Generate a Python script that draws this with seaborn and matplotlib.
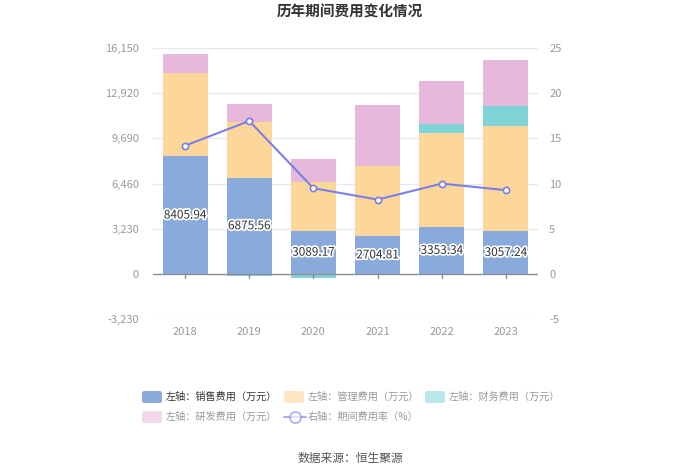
import matplotlib
matplotlib.use("Agg")
import matplotlib.pyplot as plt
import matplotlib.patheffects as pe
from matplotlib.lines import Line2D
from matplotlib.patches import FancyBboxPatch
import seaborn as sns
import numpy as np

years = ["2018", "2019", "2020", "2021", "2022", "2023"]
sales = [8405.94, 6875.56, 3089.17, 2704.81, 3353.34, 3057.24]
admin = [5979, 4008, 3462, 5013, 6700, 7543]
finance = [0, -140, -310, -50, 666, 1428]
rnd = [1336, 1286, 1689, 4335, 3096, 3264]
rate = [14.19, 16.92, 9.48, 8.22, 9.99, 9.26]

left_ticks = [-3230, 0, 3230, 6460, 9690, 12920, 16150]
right_ticks = [-5, 0, 5, 10, 15, 20, 25]

c_sales = "#8aaadb"
c_admin = "#fdd79a"
c_fin = "#80d4d8"
c_rnd = "#e6b8db"
c_line = "#7b7fe6"

sns.set_theme(style="white")
plt.rcParams['font.family'] = ['Noto Sans CJK SC', 'DejaVu Sans']

fig = plt.figure(figsize=(7, 4.73), dpi=100)
ax = fig.add_axes([153/700, 1-319/473, 385/700, (319-48)/473])

sales_a = np.array(sales)
admin_a = np.array(admin)
fin_a = np.array(finance)
rnd_a = np.array(rnd)
fin_pos = np.clip(fin_a, 0, None)
fin_neg = np.clip(fin_a, None, 0)

w = 0.70
top_rnd = sales_a + admin_a + fin_pos + rnd_a
top_fin = sales_a + admin_a + fin_pos
top_admin = sales_a + admin_a
sns.barplot(x=years, y=top_rnd, color=c_rnd, width=w, ax=ax, saturation=1, zorder=2)
sns.barplot(x=years, y=top_fin, color=c_fin, width=w, ax=ax, saturation=1, zorder=2)
sns.barplot(x=years, y=top_admin, color=c_admin, width=w, ax=ax, saturation=1, zorder=2)
sns.barplot(x=years, y=sales_a, color=c_sales, width=w, ax=ax, saturation=1, zorder=2)
sns.barplot(x=years, y=fin_neg, color=c_fin, width=w, ax=ax, saturation=1, zorder=2)
for p in ax.patches:
    p.set_edgecolor("none")
    p.set_linewidth(0)

ax.set_ylim(-3230, 16150)
ax.set_xlim(-0.5, 5.5)
ax.set_yticks(left_ticks)
ax.set_yticklabels([f"{t:,}" for t in left_ticks])
for t in left_ticks:
    if t != 0:
        ax.axhline(t, color="#e6e8f0", lw=0.9, zorder=0)
ax.axhline(0, color="#8a8f99", lw=1.0, zorder=3)
for s in ax.spines.values():
    s.set_visible(False)
ax.tick_params(axis="y", length=0, labelsize=8, labelcolor="#999999", pad=10)
ax.tick_params(axis="x", length=0, labelsize=8, labelcolor="#999999", pad=6)
ax.set_xlabel("")
ax.set_ylabel("")
for i in range(len(years)):
    ax.plot([i, i], [0, -3230*0.085], color="#8a8f99", lw=1.0, zorder=3, clip_on=False)

for i, v in enumerate(sales):
    ax.text(i, v/2, f"{v:.2f}", ha="center", va="center", fontsize=8.5,
            color="#333333", zorder=5,
            path_effects=[pe.withStroke(linewidth=2.5, foreground="white")])

ax2 = ax.twinx()
ax2.set_ylim(-5, 25)
ax2.set_yticks(right_ticks)
ax2.set_yticklabels([str(t) for t in right_ticks])
for s in ax2.spines.values():
    s.set_visible(False)
ax2.tick_params(axis="y", length=0, labelsize=8, labelcolor="#999999", pad=8)
ax2.grid(False)
sns.lineplot(x=list(range(len(years))), y=rate, ax=ax2, color=c_line, lw=1.5,
             marker="o", markersize=4.5, markerfacecolor="white",
             markeredgecolor=c_line, markeredgewidth=1.2, zorder=6)
ax2.set_xlim(-0.5, 5.5)

fig.text(0.5, 1-12/473, "历年期间费用变化情况", ha="center", va="center",
         fontsize=10.5, fontweight="bold", color="#333333")

# legend
items = [
    (142, 397, "rect", c_sales, 1.0, "左轴：销售费用（万元）", "#333333"),
    (284, 397, "rect", c_admin, 0.6, "左轴：管理费用（万元）", "#999999"),
    (425, 397, "rect", c_fin, 0.55, "左轴：财务费用（万元）", "#999999"),
    (142, 417, "rect", c_rnd, 0.55, "左轴：研发费用（万元）", "#999999"),
    (284, 417, "line", c_line, 0.6, "右轴：期间费用率（%）", "#999999"),
]
for x, y, kind, col, alpha, label, tcol in items:
    if kind == "rect":
        fig.patches.append(FancyBboxPatch((x/700, 1-(y+6)/473), 20/700, 12/473,
                                          boxstyle="round,pad=0,rounding_size=0.004",
                                          transform=fig.transFigure, facecolor=col,
                                          alpha=alpha, edgecolor="none"))
    else:
        fig.lines.append(Line2D([x/700, (x+22)/700], [1-y/473, 1-y/473],
                                transform=fig.transFigure, color=col, alpha=alpha, lw=1.5))
        fig.lines.append(Line2D([(x+11)/700], [1-y/473], transform=fig.transFigure,
                                marker="o", markersize=8, markerfacecolor="white",
                                markeredgecolor=col, alpha=alpha, markeredgewidth=1.3))
    fig.text((x+24)/700, 1-y/473, label, ha="left", va="center", fontsize=7.3, color=tcol)

fig.text(0.5, 1-458/473, "数据来源：恒生聚源", ha="center", va="center",
         fontsize=8.5, color="#555555")

fig.savefig("out.png", dpi=100)
